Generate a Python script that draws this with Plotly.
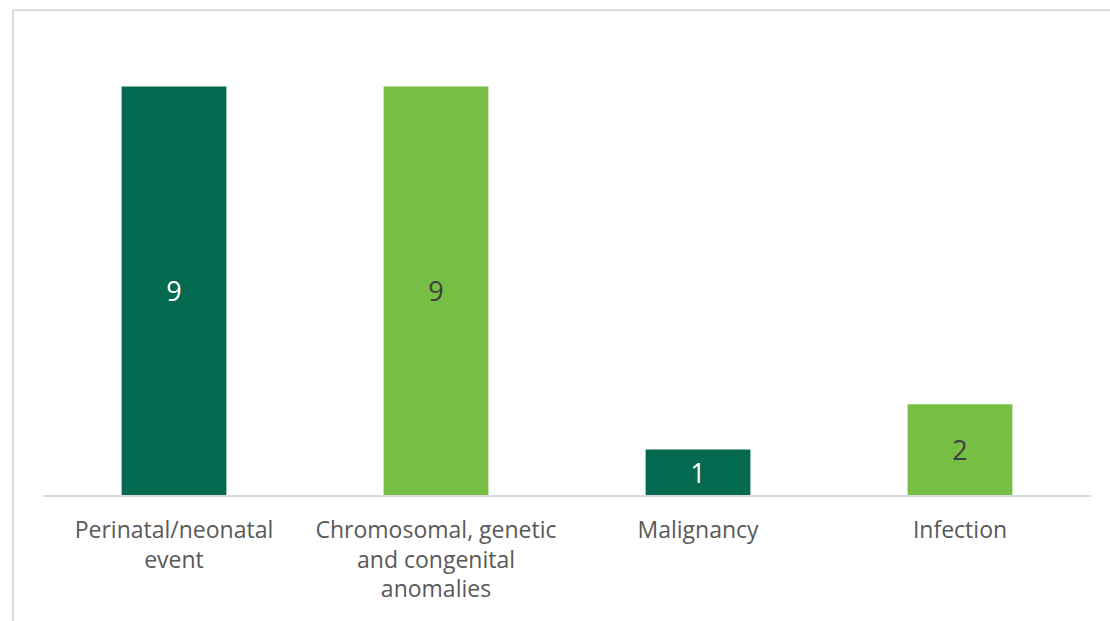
import plotly.graph_objects as go

categories = ["Perinatal/neonatal<br>event",
              "Chromosomal, genetic<br>and congenital<br>anomalies",
              "Malignancy",
              "Infection"]
counts = [9, 9, 1, 2]
bar_colors = ["#046A4F", "#77BF44", "#046A4F", "#77BF44"]
label_colors = ["#FFFFFF", "#404040", "#FFFFFF", "#404040"]

FONT = "Open Sans"

fig = go.Figure(go.Bar(
    x=categories,
    y=counts,
    marker=dict(color=bar_colors, line=dict(width=0)),
    text=[str(v) for v in counts],
    textposition="inside",
    insidetextanchor="middle",
    textfont=dict(family=FONT, size=27, color=label_colors),
    constraintext="none",
    hoverinfo="skip",
))

fig.update_layout(
    width=1110, height=621,
    margin=dict(l=43, r=19, t=41, b=126),
    paper_bgcolor="white",
    plot_bgcolor="white",
    bargap=0.6,
    showlegend=False,
    font=dict(family=FONT),
    xaxis=dict(
        showline=True, linecolor="#D9D9D9", linewidth=2,
        ticks="", showgrid=False,
        tickfont=dict(family=FONT, size=23, color="#595959"),
        ticklabelstandoff=13,
    ),
    yaxis=dict(
        range=[0, 10], visible=False, showgrid=False, zeroline=False,
    ),
    shapes=[
        # outer chart frame (top and left edges)
        dict(type="line", xref="paper", yref="paper",
             x0=-0.0286, x1=1.1, y0=1.068, y1=1.068,
             line=dict(color="#D9D9D9", width=2)),
        dict(type="line", xref="paper", yref="paper",
             x0=-0.0286, x1=-0.0286, y0=-0.5, y1=1.068,
             line=dict(color="#D9D9D9", width=2)),
    ],
)

fig.write_html("out.html")
